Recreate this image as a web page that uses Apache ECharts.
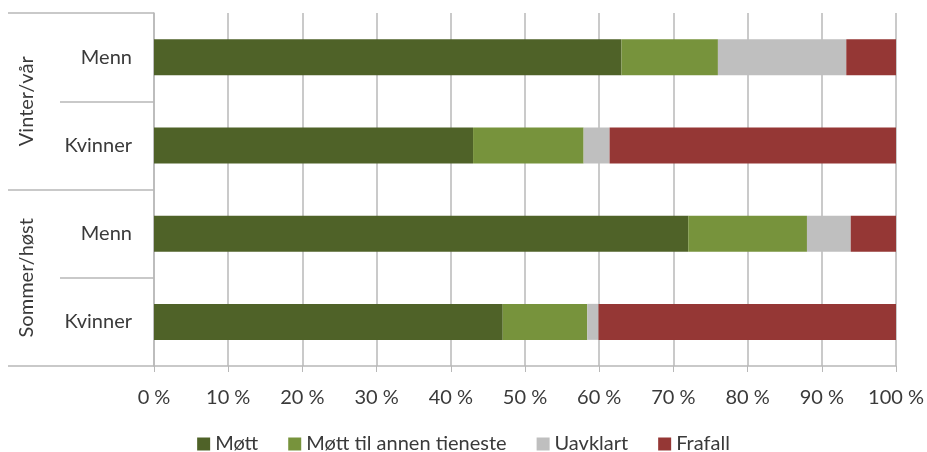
<!DOCTYPE html>
<html>
<head>
<meta charset="utf-8">
<script src="https://cdn.jsdelivr.net/npm/echarts@6/dist/echarts.min.js"></script>
<style>
  html, body { margin: 0; padding: 0; background: #fff; }
  #chart { width: 927px; height: 452px; }
</style>
</head>
<body>
<div id="chart"></div>
<script>
// data
var groups = ['Vinter/vår', 'Sommer/høst'];
var categories = ['Vinter/vår|Menn', 'Vinter/vår|Kvinner', 'Sommer/høst|Menn', 'Sommer/høst|Kvinner'];
var seriesNames = ['Møtt', 'Møtt til annen tieneste', 'Uavklart', 'Frafall'];
var mott = [63, 43, 72, 47];
var mottAnnen = [13, 14.9, 16, 11.4];
var uavklart = [17.3, 3.5, 5.9, 1.5];
var frafall = [6.7, 38.6, 6.1, 40.1];
var colors = ['#4f6228', '#77933c', '#bfbfbf', '#953735'];

var lineColor = '#b8b8b8';
var textColor = '#3a3a3a';
var font = 'Lato, "Open Sans", sans-serif';

var myChart = echarts.init(document.getElementById('chart'));

function bar(name, values, color) {
    return {
        name: name,
        type: 'bar',
        stack: 'total',
        barWidth: 36,
        data: values,
        itemStyle: { color: color },
        emphasis: { disabled: true }
    };
}

myChart.setOption({
    animation: false,
    textStyle: { fontFamily: font },
    grid: {
        left: 154,
        right: 31,
        top: 13,
        bottom: 86
    },
    legend: {
        top: 434,
        left: 'center',
        padding: 0,
        itemWidth: 13,
        itemHeight: 13,
        itemGap: 30,
        icon: 'rect',
        textStyle: { fontSize: 20, lineHeight: 20, color: textColor, fontFamily: font },
        data: seriesNames
    },
    xAxis: {
        type: 'value',
        min: 0,
        max: 100,
        interval: 10,
        axisLabel: {
            formatter: '{value} %',
            fontSize: 20,
            color: textColor,
            margin: 22
        },
        axisTick: {
            show: true,
            length: 6,
            lineStyle: { color: lineColor }
        },
        axisLine: {
            show: true,
            lineStyle: { color: lineColor, width: 1.5 }
        },
        splitLine: {
            show: true,
            lineStyle: { color: lineColor, width: 1.5 }
        }
    },
    yAxis: [{
        type: 'category',
        inverse: true,
        data: categories,
        axisLabel: {
            formatter: function (v) { return v.split('|')[1]; },
            fontSize: 20,
            color: textColor,
            margin: 22
        },
        axisTick: {
            show: true,
            interval: 0,
            length: 94,
            lineStyle: { color: lineColor, width: 1.5 }
        },
        axisLine: {
            show: true,
            lineStyle: { color: lineColor, width: 1.5 }
        },
        splitLine: { show: false }
    }, {
        type: 'category',
        inverse: true,
        position: 'left',
        offset: 0,
        data: groups,
        axisLabel: {
            rotate: 90,
            fontSize: 20,
            color: textColor,
            margin: 117
        },
        axisTick: {
            show: true,
            interval: 0,
            length: 146,
            lineStyle: { color: lineColor, width: 1.5 }
        },
        axisLine: { show: false },
        splitLine: { show: false }
    }],
    series: [
        bar(seriesNames[0], mott, colors[0]),
        bar(seriesNames[1], mottAnnen, colors[1]),
        bar(seriesNames[2], uavklart, colors[2]),
        bar(seriesNames[3], frafall, colors[3])
    ]
});
</script>
</body>
</html>
